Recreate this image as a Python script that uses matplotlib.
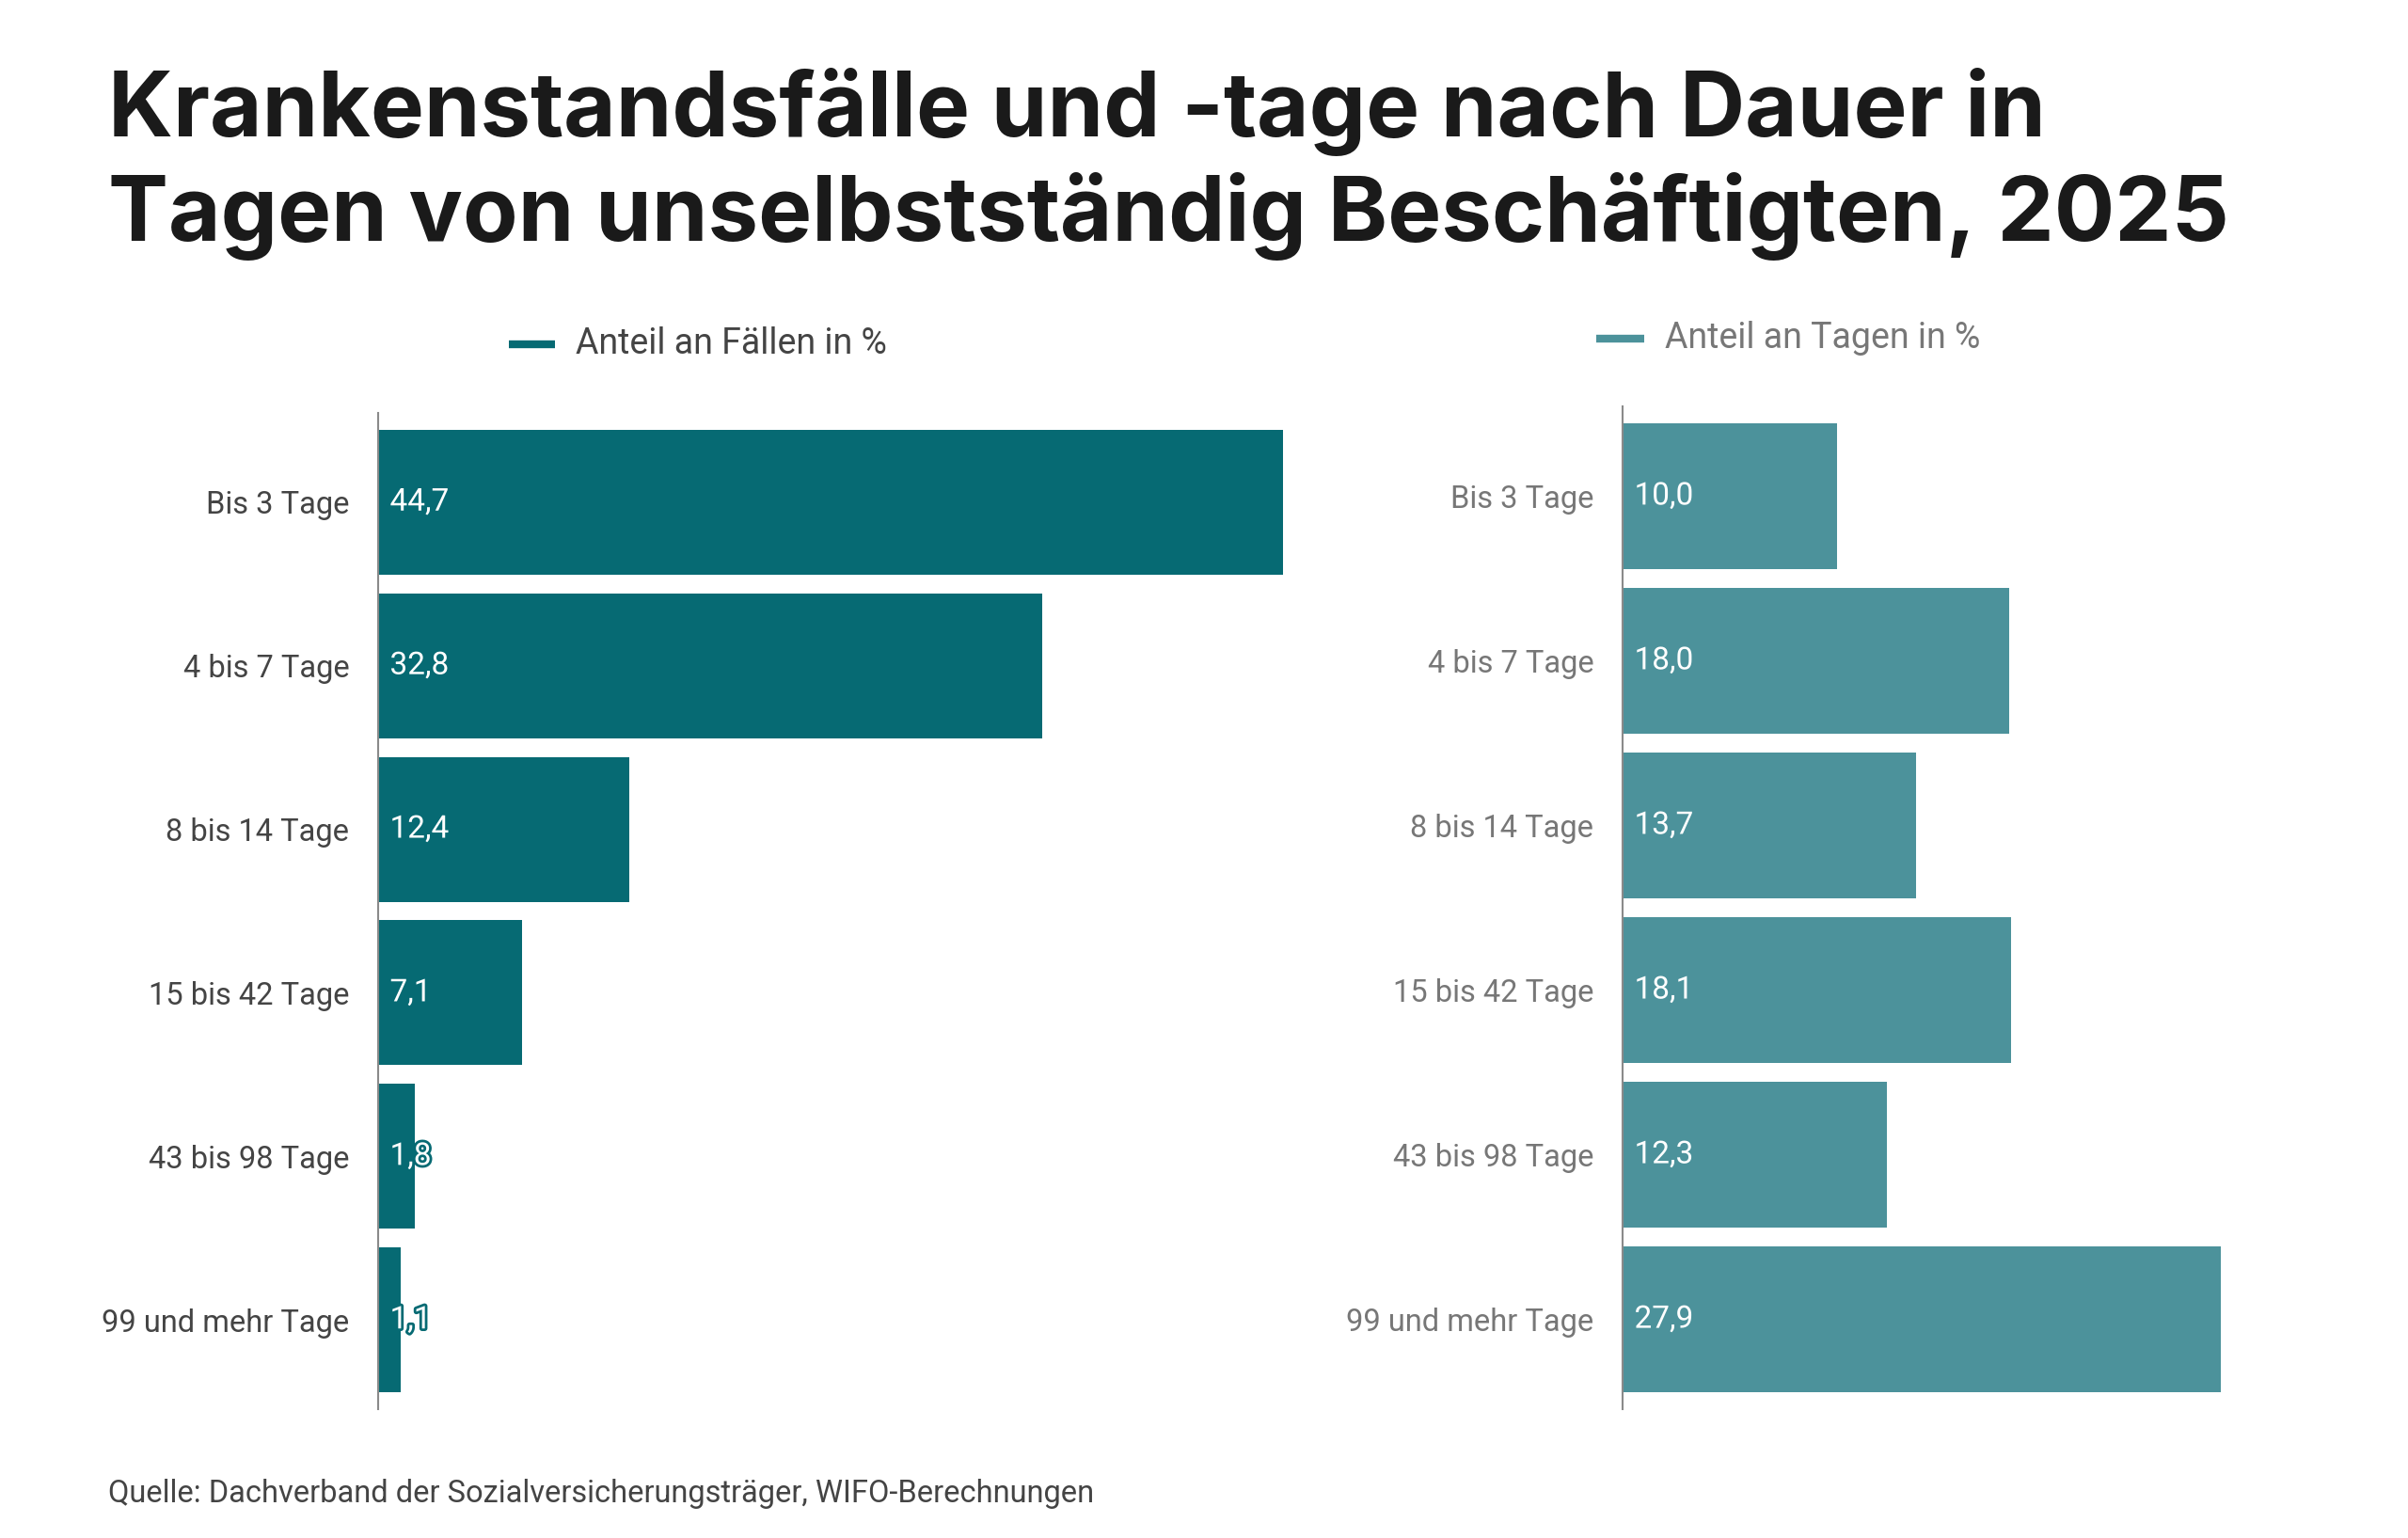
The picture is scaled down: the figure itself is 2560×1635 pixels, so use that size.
import matplotlib
matplotlib.use("Agg")
import matplotlib.pyplot as plt
import matplotlib.patheffects as pe
from matplotlib.lines import Line2D

# data
kategorien = ["Bis 3 Tage", "4 bis 7 Tage", "8 bis 14 Tage",
              "15 bis 42 Tage", "43 bis 98 Tage", "99 und mehr Tage"]
anteil_faelle = [44.7, 32.8, 12.4, 7.1, 1.8, 1.1]
anteil_tage = [10.0, 18.0, 13.7, 18.1, 12.3, 27.9]

farbe_faelle = "#066a73"
farbe_tage = "#4c929b"

plt.rcParams['font.family'] = ['Roboto', 'DejaVu Sans']

W, H = 2560, 1635
fig = plt.figure(figsize=(W / 100, H / 100), dpi=100)


def px(x, y):
    # pixel position (from top left) -> figure fraction
    return x / W, 1 - y / H


def panel(left, top, bottom, width_px, xmax, werte, farbe, labelfarbe):
    l, t = px(left, top)
    _, b = px(left, bottom)
    ax = fig.add_axes([l, b, width_px / W, t - b])
    y = list(range(len(kategorien)))
    ax.barh(y, werte, height=0.886, color=farbe)
    ax.set_xlim(0, xmax)
    ax.set_ylim(5.545, -0.545)
    ax.set_yticks(y)
    ax.set_yticklabels(kategorien, color=labelfarbe, fontsize=23.5)
    ax.tick_params(axis='y', length=0, pad=22)
    ax.set_xticks([])
    for s in ["top", "right", "bottom"]:
        ax.spines[s].set_visible(False)
    ax.spines["left"].set_color("#8a8a8a")
    ax.spines["left"].set_linewidth(1.5)
    for yi, v in zip(y, werte):
        txt = ax.annotate(f"{v:.1f}".replace(".", ","), (0, yi),
                          xytext=(9, 0), textcoords="offset points",
                          ha="left", va="center", color="white", fontsize=24)
        txt.set_path_effects([pe.Stroke(linewidth=4, foreground=farbe), pe.Normal()])
    return ax


panel(402, 439, 1498, 50 * 21.52, 50, anteil_faelle, farbe_faelle, "#444444")
panel(1725, 432, 1498, 30 * 22.81, 30, anteil_tage, farbe_tage, "#777777")

# legends
x0, y0 = px(541, 366)
x1, _ = px(590, 366)
fig.add_artist(Line2D([x0, x1], [y0, y0], color=farbe_faelle, lw=6,
                      solid_capstyle="butt", transform=fig.transFigure))
fig.text(612 / W, y0, "Anteil an Fällen in %", fontsize=27, color="#444444",
         va="center", ha="left")

x0, y0 = px(1697, 360)
x1, _ = px(1748, 360)
fig.add_artist(Line2D([x0, x1], [y0, y0], color=farbe_tage, lw=6,
                      solid_capstyle="butt", transform=fig.transFigure))
fig.text(1770 / W, y0, "Anteil an Tagen in %", fontsize=27, color="#777777",
         va="center", ha="left")

# title
fig.text(115 / W, 1 - 145 / H, "Krankenstandsfälle und -tage nach Dauer in",
         fontsize=69, fontweight="bold", family=["Inter", "DejaVu Sans"],
         color="#1a1a1a", va="baseline", ha="left")
fig.text(115 / W, 1 - 256 / H, "Tagen von unselbstständig Beschäftigten, 2025",
         fontsize=69, fontweight="bold", family=["Inter", "DejaVu Sans"],
         color="#1a1a1a", va="baseline", ha="left")

# source
fig.text(115 / W, 1 - 1597 / H,
         "Quelle: Dachverband der Sozialversicherungsträger, WIFO-Berechnungen",
         fontsize=23.5, color="#444444", va="baseline", ha="left")

fig.savefig("out.png", dpi=100, facecolor="white")
